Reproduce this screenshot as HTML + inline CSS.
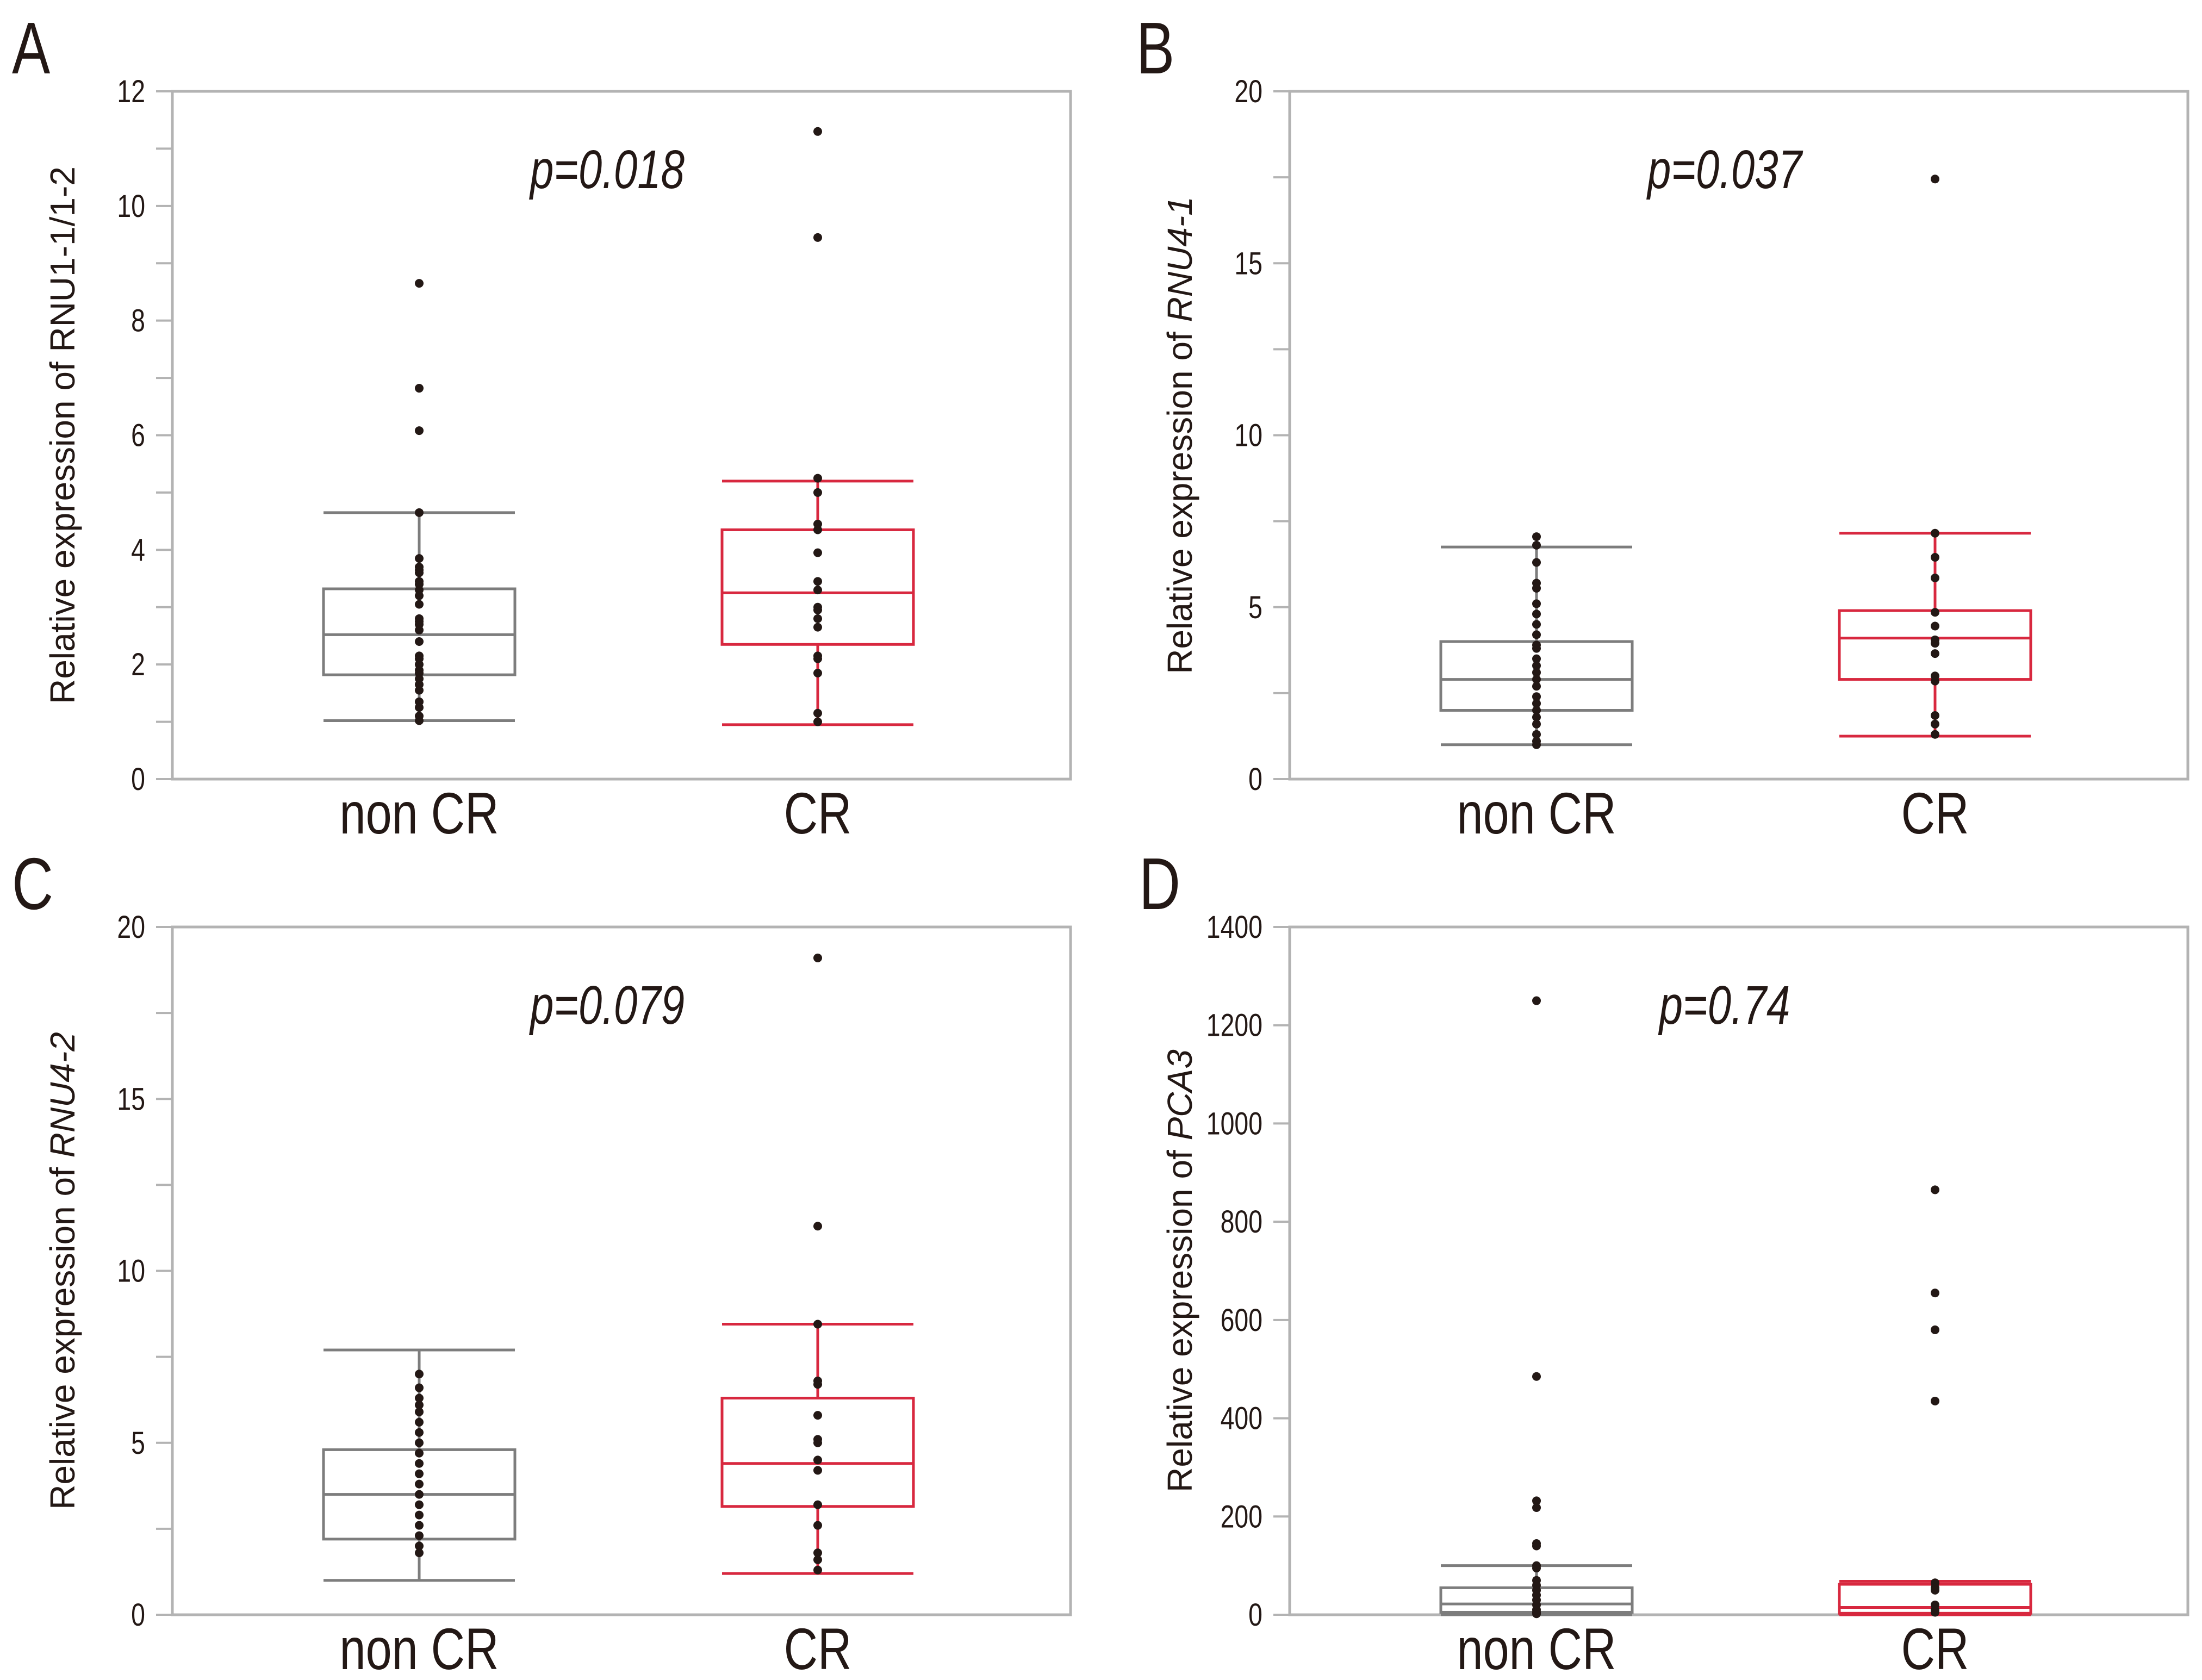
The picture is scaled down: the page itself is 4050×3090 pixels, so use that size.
<!DOCTYPE html>
<html><head><meta charset="utf-8"><style>
html,body{margin:0;padding:0;background:#fff;}
svg{display:block;}
text{font-family:"Liberation Sans",sans-serif;fill:#231815;}
</style></head><body>
<svg id="fig" width="4050" height="3090" viewBox="0 0 4050 3090" xmlns="http://www.w3.org/2000/svg"></svg>
<script>
const categories = ["non CR","CR"];
// Panel A
const aNonStats = [1.02,1.82,2.52,3.32,4.65];
const aCrStats = [0.95,2.35,3.25,4.35,5.2];
const aNonPts = [8.65,6.82,6.08,4.65,3.85,3.7,3.65,3.6,3.45,3.4,3.3,3.2,3.05,2.8,2.75,2.7,2.6,2.4,2.15,2.1,2.0,1.9,1.85,1.75,1.65,1.55,1.35,1.25,1.1,1.02];
const aCrPts = [11.3,9.45,5.25,5.0,4.45,4.35,3.95,3.45,3.3,3.0,2.95,2.8,2.65,2.15,2.1,1.85,1.15,1.0];
// Panel B
const bNonStats = [1.0,2.0,2.9,4.0,6.75];
const bCrStats = [1.25,2.9,4.1,4.9,7.15];
const bNonPts = [7.05,6.8,6.3,5.7,5.55,5.1,4.8,4.5,4.2,3.9,3.8,3.5,3.3,3.1,2.9,2.7,2.4,2.2,2.0,1.8,1.6,1.3,1.1,1.0];
const bCrPts = [17.45,7.15,6.45,5.85,4.85,4.45,4.05,3.95,3.65,3.0,2.85,1.85,1.6,1.3];
// Panel C
const cNonStats = [1.0,2.2,3.5,4.8,7.7];
const cCrStats = [1.2,3.15,4.4,6.3,8.45];
const cNonPts = [7.0,6.6,6.3,6.1,5.9,5.6,5.3,5.0,4.7,4.4,4.1,3.8,3.5,3.2,2.9,2.6,2.3,2.0,1.8];
const cCrPts = [19.1,11.3,8.45,6.8,6.7,5.8,5.1,5.0,4.5,4.2,3.2,2.6,1.8,1.6,1.3];
// Panel D
const dNonStats = [0,5,22,55,100];
const dCrStats = [0,3,15,62,68];
const dNonPts = [1250,485,232,218,145,140,100,95,70,60,50,40,30,20,10,5,2];
const dCrPts = [865,655,580,435,65,55,50,20,10,5];
// ticks
const aTicks = [0,2,4,6,8,10,12];
const bTicks = [0,5,10,15,20];
const dTicks = [0,200,400,600,800,1000,1200,1400];

const NS="http://www.w3.org/2000/svg";
const svg=document.getElementById('fig');
function mk(tag,attrs,parent){const e=document.createElementNS(NS,tag);for(const k in attrs)e.setAttribute(k,attrs[k]);(parent||svg).appendChild(e);return e;}
function ctext(parent,x,y,size,anchor,str,italic,sx){
  const t=mk('text',{x:0,y:0,'font-size':size,'text-anchor':anchor,transform:`translate(${x},${y}) scale(${sx||0.78},1)`},parent);
  if(italic)t.setAttribute('font-style','italic');
  t.textContent=str;return t;
}

function panel(o){
  const g=mk('g',{});
  
  
  const L=o.x0,R=o.x0+1652,T=o.y0,B=o.y0+1265;
  const y=v=>B-(v-0)/(o.max)*(B-T);
  const cx=[o.x0+454,o.x0+1187];
  const fr=mk('rect',{x:L,y:T,width:R-L,height:B-T,fill:'none',stroke:'#b3b3b3','stroke-width':5},g);
  
  
  for(let v=0;v<=o.max+1e-9;v+=o.minor){
    const t=mk('line',{x1:L-30,x2:L,y1:y(v),y2:y(v),stroke:'#b3b3b3','stroke-width':4},g);
    
    
  }
  o.ticks.forEach(v=>{
    const t=ctext(g,L-50,y(v)+20,58,'end',String(v),false,0.8);
    
    
  });
  const yt=mk('text',{x:0,y:0,'font-size':64,'text-anchor':'middle',transform:`translate(${L-180},${(T+B)/2}) rotate(-90)`},g);
  
  
  yt.appendChild(document.createTextNode('Relative expression of '));
  const ts=mk('tspan',{'font-style':o.italic?'italic':'normal'},yt);ts.textContent=o.gene;
  categories.forEach((c,i)=>{
    const t=ctext(g,cx[i],B+100,108,'middle',c,false,0.8);
    
    
  });
  const p=ctext(g,o.x0+800,o.y0+178,100,'middle',o.p,true,0.78);
  
  
  const lt=ctext(g,o.lx,o.y0-33,135,'start',o.letter,false,0.78);
  
  
  [[o.nonStats,'#7d7d7d',o.nonPts],[o.crStats,'#d8283f',o.crPts]].forEach((s,i)=>{
    const st=s[0],col=s[1],c=cx[i],hw=176;
    const bg=mk('g',{stroke:col,'stroke-width':5,fill:'none'},g);
    
    
    mk('line',{x1:c,x2:c,y1:y(st[0]),y2:y(st[4])},bg);
    mk('line',{x1:c-hw,x2:c+hw,y1:y(st[0]),y2:y(st[0])},bg);
    mk('line',{x1:c-hw,x2:c+hw,y1:y(st[4]),y2:y(st[4])},bg);
    mk('rect',{x:c-hw,y:y(st[3]),width:2*hw,height:y(st[1])-y(st[3]),fill:'#fff'},bg);
    mk('line',{x1:c-hw,x2:c+hw,y1:y(st[2]),y2:y(st[2])},bg);
    s[2].forEach(v=>{
      const d=mk('circle',{cx:c,cy:y(v),r:8,fill:'#231815'},g);
      
      
    });
  });
}
panel({letter:'A',lx:22,x0:317,y0:168,max:12,minor:1,ticks:aTicks,gene:'RNU1-1/1-2',italic:false,p:'p=0.018',nonStats:aNonStats,crStats:aCrStats,nonPts:aNonPts,crPts:aCrPts});
panel({letter:'B',lx:2090,x0:2372,y0:168,max:20,minor:2.5,ticks:bTicks,gene:'RNU4-1',italic:true,p:'p=0.037',nonStats:bNonStats,crStats:bCrStats,nonPts:bNonPts,crPts:bCrPts});
panel({letter:'C',lx:22,x0:317,y0:1705,max:20,minor:2.5,ticks:bTicks,gene:'RNU4-2',italic:true,p:'p=0.079',nonStats:cNonStats,crStats:cCrStats,nonPts:cNonPts,crPts:cCrPts});
panel({letter:'D',lx:2095,x0:2372,y0:1705,max:1400,minor:200,ticks:dTicks,gene:'PCA3',italic:true,p:'p=0.74',nonStats:dNonStats,crStats:dCrStats,nonPts:dNonPts,crPts:dCrPts});
</script>
</body></html>
